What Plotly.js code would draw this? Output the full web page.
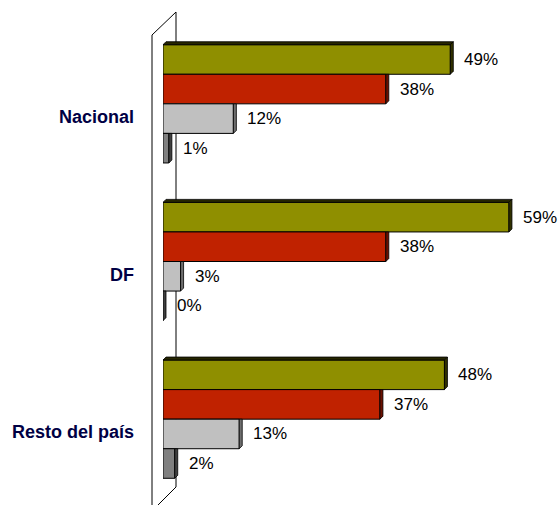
<!DOCTYPE html>
<html>
<head>
<meta charset="utf-8">
<script src="https://cdn.plot.ly/plotly-3.0.1.min.js"></script>
<style>html,body{margin:0;padding:0;background:#fff;}#chart{width:558px;height:505px;}</style>
</head>
<body>
<div id="chart"></div>
<script>
// ---- data ----
const categories = ['Nacional', 'DF', 'Resto del país'];
const seriesNames = ['Serie 1', 'Serie 2', 'Serie 3', 'Serie 4'];
const serie1 = [49, 59, 48];
const serie2 = [38, 38, 37];
const serie3 = [12, 3, 13];
const serie4 = [1, 0, 2];

// ---- styles ----
const faceColors = ['#8f8f00', '#c02200', '#c0c0c0', '#808080'];
const sideColors = ['#303000', '#6a1000', '#6e6e6e', '#404040'];
const topColors  = ['#262600', '#5a0e00', '#8a8a8a', '#505050'];

const allSeries = [serie1, serie2, serie3, serie4];
const positions = categories.map((c, i) => i);
const bargap = 0.25;
const barW = (1 - bargap) / allSeries.length;
const xMax = 66;
const plotW = 558 - 163 - 8, plotH = 505 - 25 - 7;
const dx = 3 * xMax / plotW;   // 3px depth in x units
const dy = 3 * 3 / plotH;      // 3px depth in y units (range span 3)

const traces = allSeries.map((vals, k) => ({
  type: 'bar',
  orientation: 'h',
  name: seriesNames[k],
  x: vals,
  y: positions,
  hovertext: categories,
  marker: {color: faceColors[k], line: {color: '#000', width: 1}},
  cliponaxis: false
}));

const shapes = [];
const annotations = [];

// 3D faces and value labels
allSeries.forEach((vals, k) => {
  vals.forEach((v, i) => {
    const y0 = i - (1 - bargap) / 2 + k * barW;
    const y1 = y0 + barW;
    let side;
    if (k === 0) {
      side = `M ${v},${y0} L ${v + dx},${y0 - dy} L ${v + dx},${y1 - dy} L ${v},${y1} Z`;
      shapes.push({type: 'path', xref: 'x', yref: 'y', path: `M 0,${y0} L ${dx},${y0 - dy} L ${v + dx},${y0 - dy} L ${v},${y0} Z`,
        fillcolor: topColors[k], line: {color: '#000', width: 0.8}});
    } else {
      side = `M ${v},${y0} L ${v + dx},${y0} L ${v + dx},${y1 - dy} L ${v},${y1} Z`;
    }
    shapes.push({type: 'path', xref: 'x', yref: 'y', path: side,
      fillcolor: sideColors[k], line: {color: '#000', width: 0.8}});
    annotations.push({
      xref: 'x', yref: 'y', x: v, y: (y0 + y1) / 2,
      text: v + '%', showarrow: false, xanchor: 'left', yanchor: 'middle',
      xshift: 12, font: {family: 'Arial, Liberation Sans, sans-serif', size: 17, color: '#000'}
    });
  });
});

// category labels
categories.forEach((c, i) => {
  annotations.push({
    xref: 'paper', yref: 'y', x: (136 - 163) / plotW, y: positions[i],
    text: c, showarrow: false, xanchor: 'right', yanchor: 'middle', yshift: -13,
    font: {family: 'Arial, Liberation Sans, sans-serif', size: 18, color: '#000044', weight: 'bold'}
  });
});

// side wall (3D frame)
const px = p => (p - 163) / plotW;
const py = p => (498 - p) / plotH;
const wall = {color: '#000', width: 1};
shapes.push({type: 'line', xref: 'paper', yref: 'paper', layer: 'below', x0: px(176), x1: px(176), y0: py(12), y1: py(487), line: wall});
shapes.push({type: 'line', xref: 'paper', yref: 'paper', x0: px(152), x1: px(152), y0: py(35), y1: py(512), line: wall});
shapes.push({type: 'line', xref: 'paper', yref: 'paper', x0: px(152), x1: px(176), y0: py(35), y1: py(12), line: wall});
shapes.push({type: 'line', xref: 'paper', yref: 'paper', x0: px(176), x1: px(152), y0: py(487), y1: py(511), line: wall});

const layout = {
  width: 558, height: 505,
  margin: {l: 163, r: 8, t: 25, b: 7},
  paper_bgcolor: '#fff', plot_bgcolor: '#fff',
  barmode: 'group', bargap: bargap, bargroupgap: 0,
  showlegend: false,
  xaxis: {range: [0, xMax], visible: false, fixedrange: true},
  yaxis: {range: [2.5, -0.5], visible: false, fixedrange: true},
  shapes: shapes,
  annotations: annotations
};

Plotly.newPlot('chart', traces, layout, {displayModeBar: false, staticPlot: true});
</script>
</body>
</html>
